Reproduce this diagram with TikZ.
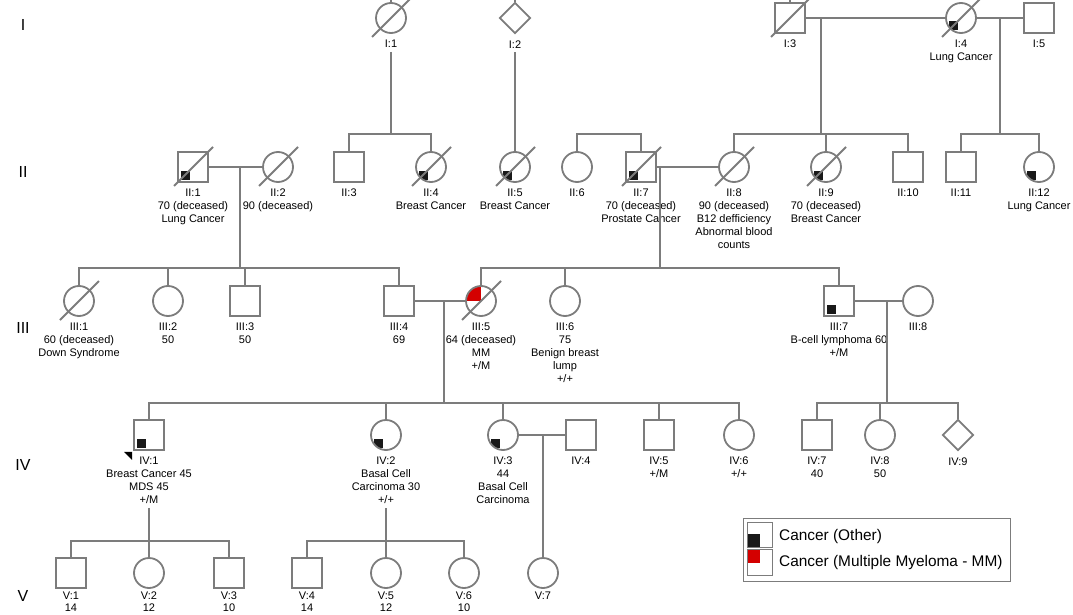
\documentclass[tikz,border=0pt]{standalone}
\usepackage{fontspec}
\setmainfont{Liberation Sans}
\usetikzlibrary{shapes.geometric}

\definecolor{pedgray}{HTML}{7C7C7C}
\definecolor{mmred}{HTML}{D40000}
\newcommand{\lblfont}{\fontsize{11}{13}\selectfont}
\newcommand{\genfont}{\fontsize{16}{18}\selectfont}
\newcommand{\keyfont}{\fontsize{15.4}{18}\selectfont}

\tikzset{
  ped/.style={draw=pedgray, line width=1.8pt},
  male/.style={ped, rectangle, minimum size=30pt, inner sep=0pt, fill=white},
  female/.style={ped, circle, minimum size=30pt, inner sep=0pt, fill=white},
  unknown/.style={ped, diamond, minimum size=31pt, inner sep=0pt, fill=white},
  affected/.style={path picture={\fill[black!90] ([xshift=-12pt,yshift=-12.5pt]path picture bounding box.center) rectangle ++(9pt,9pt);}},
  mm/.style={path picture={\fill[mmred] (path picture bounding box.center) rectangle ++(-16pt,16pt);}},
  lbl/.style={align=center, inner sep=0pt, font=\lblfont},
  lastlbl/.style={lbl, label distance=3pt, font=\fontsize{11}{12}\selectfont},
  gen/.style={font=\genfont},
}

\begin{document}
\begin{tikzpicture}[x=1pt, y=-1pt, label distance=6pt]
    \path[use as bounding box, fill=white] (0,0) rectangle (1073,615);

    % generation numbers
    \node[gen] (gI) at (23,25) {I};
    \node[gen] (gII) at (23,172) {II};
    \node[gen] (gIII) at (23,328) {III};
    \node[gen] (gIV) at (23,465) {IV};
    \node[gen] (gV) at (23,596) {V};

    % generation I
    \node[female, label={[lbl, name=I1l]below:I:1}] (I1) at (391,18) {};
    \node[unknown, label={[lbl, name=I2l]below:I:2}] (I2) at (515,18) {};
    \node[male, label={[lbl]below:I:3}] (I3) at (790,18) {};
    \node[female, affected, label={[lbl]below:{I:4\\Lung Cancer}}] (I4) at (961,18) {};
    \node[male, label={[lbl]below:I:5}] (I5) at (1039,18) {};
    \foreach \n in {I1,I2,I3}
        \draw[ped] (\n.north) -- ++(0,-6);
    \draw[ped] (I3) -- (I4);
    \draw[ped] (I4) -- (I5);

    % generation II
    \node[male, affected, label={[lbl]below:{II:1\\70 (deceased)\\Lung Cancer}}] (II1) at (193,167) {};
    \node[female, label={[lbl]below:{II:2\\90 (deceased)}}] (II2) at (278,167) {};
    \node[male, label={[lbl]below:II:3}] (II3) at (349,167) {};
    \node[female, affected, label={[lbl]below:{II:4\\Breast Cancer}}] (II4) at (431,167) {};
    \node[female, affected, label={[lbl]below:{II:5\\Breast Cancer}}] (II5) at (515,167) {};
    \node[female, label={[lbl]below:II:6}] (II6) at (577,167) {};
    \node[male, affected, label={[lbl]below:{II:7\\70 (deceased)\\Prostate Cancer}}] (II7) at (641,167) {};
    \node[female, label={[lbl]below:{II:8\\90 (deceased)\\B12 defficiency\\Abnormal blood\\counts}}] (II8) at (734,167) {};
    \node[female, affected, label={[lbl]below:{II:9\\70 (deceased)\\Breast Cancer}}] (II9) at (826,167) {};
    \node[male, label={[lbl]below:II:10}] (II10) at (908,167) {};
    \node[male, label={[lbl]below:II:11}] (II11) at (961,167) {};
    \node[female, affected, label={[lbl]below:{II:12\\Lung Cancer}}] (II12) at (1039,167) {};

    \coordinate (sII3) at (391,134);
    \draw[ped] ([yshift=-4pt]I1l.south) -- (sII3);
    \draw[ped] (II3.north) |- (sII3) -| (II4.north);
    \draw[ped] ([yshift=-4pt]I2l.south) -- (II5.north);
    \coordinate (sII6) at (609,134);
    \draw[ped] (II6.north) |- (sII6) -| (II7.north);
    \coordinate (mI34) at (821,18);
    \coordinate (sII8) at (821,134);
    \draw[ped] (mI34) -- (sII8);
    \draw[ped] (II8.north) |- (sII8) -| (II10.north);
    \draw[ped] (II9.north) -- (II9.north |- sII8);
    \coordinate (mI45) at (1000,18);
    \coordinate (sII11) at (1000,134);
    \draw[ped] (mI45) -- (sII11);
    \draw[ped] (II11.north) |- (sII11) -| (II12.north);
    \draw[ped] (II1) -- (II2);
    \draw[ped] (II7) -- (II8);

    % generation III
    \node[female, label={[lbl]below:{III:1\\60 (deceased)\\Down Syndrome}}] (III1) at (79,301) {};
    \node[female, label={[lbl]below:{III:2\\50}}] (III2) at (168,301) {};
    \node[male, label={[lbl]below:{III:3\\50}}] (III3) at (245,301) {};
    \node[male, label={[lbl]below:{III:4\\69}}] (III4) at (399,301) {};
    \node[female, mm, label={[lbl]below:{III:5\\64 (deceased)\\MM\\+/M}}] (III5) at (481,301) {};
    \node[female, label={[lbl]below:{III:6\\75\\Benign breast\\lump\\+/+}}] (III6) at (565,301) {};
    \node[male, affected, label={[lbl]below:{III:7\\B-cell lymphoma 60\\+/M}}] (III7) at (839,301) {};
    \node[female, label={[lbl]below:III:8}] (III8) at (918,301) {};

    \coordinate (mII12) at (240,167);
    \coordinate (sIII1) at (240,268);
    \draw[ped] (mII12) -- (sIII1);
    \draw[ped] (III1.north) |- (sIII1) -| (III4.north);
    \foreach \c in {III2,III3}
        \draw[ped] (\c.north) -- (\c.north |- sIII1);
    \coordinate (mII78) at (660,167);
    \coordinate (sIII5) at (660,268);
    \draw[ped] (mII78) -- (sIII5);
    \draw[ped] (III5.north) |- (sIII5) -| (III7.north);
    \draw[ped] (III6.north) -- (III6.north |- sIII5);
    \draw[ped] (III4) -- (III5);
    \draw[ped] (III7) -- (III8);

    % generation IV
    \node[male, affected, label={[lbl, name=IV1l]below:{IV:1\\Breast Cancer 45\\MDS 45\\+/M}}] (IV1) at (149,435) {};
    \node[female, affected, label={[lbl, name=IV2l]below:{IV:2\\Basal Cell\\Carcinoma 30\\+/+}}] (IV2) at (386,435) {};
    \node[female, affected, label={[lbl]below:{IV:3\\44\\Basal Cell\\Carcinoma}}] (IV3) at (503,435) {};
    \node[male, label={[lbl]below:IV:4}] (IV4) at (581,435) {};
    \node[male, label={[lbl]below:{IV:5\\+/M}}] (IV5) at (659,435) {};
    \node[female, label={[lbl]below:{IV:6\\+/+}}] (IV6) at (739,435) {};
    \node[male, label={[lbl]below:{IV:7\\40}}] (IV7) at (817,435) {};
    \node[female, label={[lbl]below:{IV:8\\50}}] (IV8) at (880,435) {};
    \node[unknown, label={[lbl]below:IV:9}] (IV9) at (958,435) {};
    \fill[black] (IV1.south west) ++(-1,1) -- ++(-8,0) -- ++(8,8) -- cycle;

    \coordinate (mIII45) at (444,301);
    \coordinate (sIV1) at (444,403);
    \draw[ped] (mIII45) -- (sIV1);
    \draw[ped] (IV1.north) |- (sIV1) -| (IV6.north);
    \foreach \c in {IV2,IV3,IV5}
        \draw[ped] (\c.north) -- (\c.north |- sIV1);
    \coordinate (mIII78) at (887,301);
    \coordinate (sIV7) at (887,403);
    \draw[ped] (mIII78) -- (sIV7);
    \draw[ped] (IV7.north) |- (sIV7) -| (IV9.north);
    \draw[ped] (IV8.north) -- (IV8.north |- sIV7);
    \draw[ped] (IV3) -- (IV4);

    % generation V
    \node[male, label={[lastlbl]below:{V:1\\14}}] (V1) at (71,573) {};
    \node[female, label={[lastlbl]below:{V:2\\12}}] (V2) at (149,573) {};
    \node[male, label={[lastlbl]below:{V:3\\10}}] (V3) at (229,573) {};
    \node[male, label={[lastlbl]below:{V:4\\14}}] (V4) at (307,573) {};
    \node[female, label={[lastlbl]below:{V:5\\12}}] (V5) at (386,573) {};
    \node[female, label={[lastlbl]below:{V:6\\10}}] (V6) at (464,573) {};
    \node[female, label={[lastlbl]below:V:7}] (V7) at (543,573) {};

    \coordinate (sV1) at (149,541);
    \draw[ped] ([yshift=-4pt]IV1l.south) -- (sV1);
    \draw[ped] (V1.north) |- (sV1) -| (V3.north);
    \draw[ped] (V2.north) -- (V2.north |- sV1);
    \coordinate (sV4) at (386,541);
    \draw[ped] ([yshift=-4pt]IV2l.south) -- (sV4);
    \draw[ped] (V4.north) |- (sV4) -| (V6.north);
    \draw[ped] (V5.north) -- (V5.north |- sV4);
    \coordinate (mIV34) at (543,435);
    \draw[ped] (mIV34) -- (V7.north);

    % deceased
    \foreach \n in {I1,I3,I4,II1,II2,II4,II5,II7,II8,II9,III1,III5}
        \draw[ped] (\n.center) ++(-19,19) -- ++(39,-39);

    % key
    \draw[pedgray, line width=1pt] (743,518) rectangle (1010,581);
    \draw[pedgray, line width=0.8pt] (747.5,522) rectangle (772.5,547);
    \fill[black!90] (747.5,534) rectangle (760,547);
    \draw[pedgray, line width=0.8pt] (747.5,549) rectangle (772.5,575);
    \fill[mmred] (747.5,550) rectangle (760,562.5);
    \node[anchor=west, inner sep=0pt, font=\keyfont] (kother) at (779,537) {Cancer (Other)};
    \node[anchor=west, inner sep=0pt, font=\keyfont] (kmm) at (779,563) {Cancer (Multiple Myeloma - MM)};
\end{tikzpicture}
\end{document}
